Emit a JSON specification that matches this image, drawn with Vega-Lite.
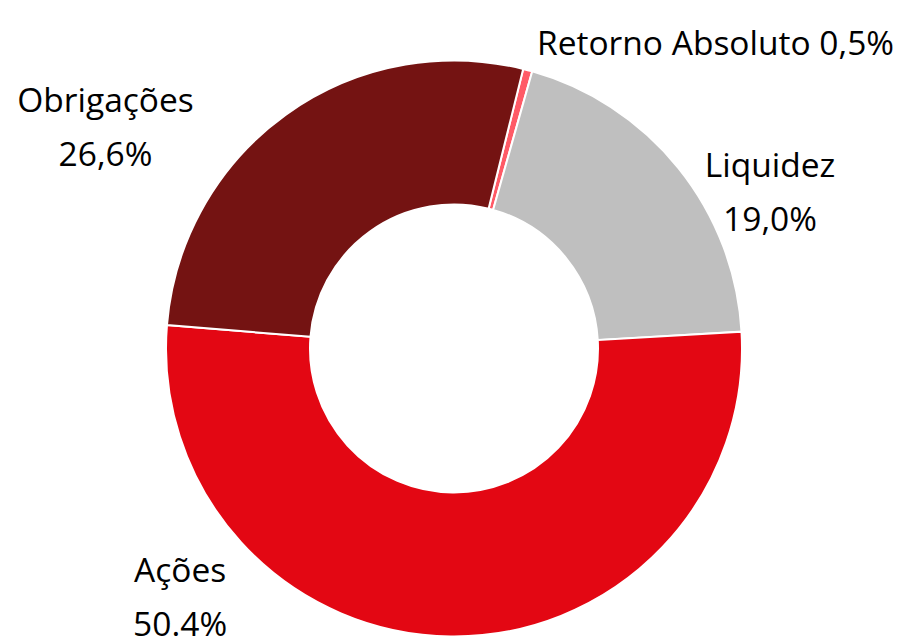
{
  "$schema": "https://vega.github.io/schema/vega-lite/v6.json",
  "width": 892,
  "height": 575,
  "autosize": {"type": "none"},
  "padding": {"left": 8, "top": 61, "right": 0, "bottom": 0},
  "background": "white",
  "config": {"view": {"stroke": null}, "font": "Open Sans"},
  "data": {
    "values": [
      {"categoria": "Retorno Absoluto", "valor": 0.5, "ordem": 1, "rotulo": "Retorno Absoluto 0,5%"},
      {"categoria": "Liquidez", "valor": 19.0, "ordem": 2, "rotulo": "Liquidez\n19,0%"},
      {"categoria": "Ações", "valor": 50.4, "ordem": 3, "rotulo": "Ações\n50.4%"},
      {"categoria": "Obrigações", "valor": 26.6, "ordem": 4, "rotulo": "Obrigações\n26,6%"}
    ]
  },
  "encoding": {
    "theta": {"field": "valor", "type": "quantitative", "stack": true, "scale": {"range": [0.2426, 6.5258]}},
    "order": {"field": "ordem", "type": "ordinal"}
  },
  "layer": [
    {
      "mark": {"type": "arc", "outerRadius": 288, "innerRadius": 144, "stroke": "white", "strokeWidth": 2},
      "encoding": {
        "color": {
          "field": "categoria", "type": "nominal", "legend": null,
          "scale": {"domain": ["Retorno Absoluto", "Liquidez", "Ações", "Obrigações"], "range": ["#ff5a66", "#bfbfbf", "#e30713", "#741312"]}
        }
      }
    },
    {
      "mark": {
        "type": "text", "radius": 340,
        "dx": {"expr": "datum.categoria === 'Retorno Absoluto' ? -4 : datum.categoria === 'Liquidez' ? 51 : datum.categoria === 'Ações' ? -270 : -150"},
        "dy": {"expr": "datum.categoria === 'Retorno Absoluto' ? 35 : datum.categoria === 'Liquidez' ? 42 : datum.categoria === 'Ações' ? -106 : 40"},
        "align": {"expr": "datum.categoria === 'Retorno Absoluto' ? 'left' : 'center'"},
        "baseline": "alphabetic", "fontSize": 33.5, "color": "black", "lineBreak": "\n", "lineHeight": 54
      },
      "encoding": {"text": {"field": "rotulo"}}
    }
  ]
}
